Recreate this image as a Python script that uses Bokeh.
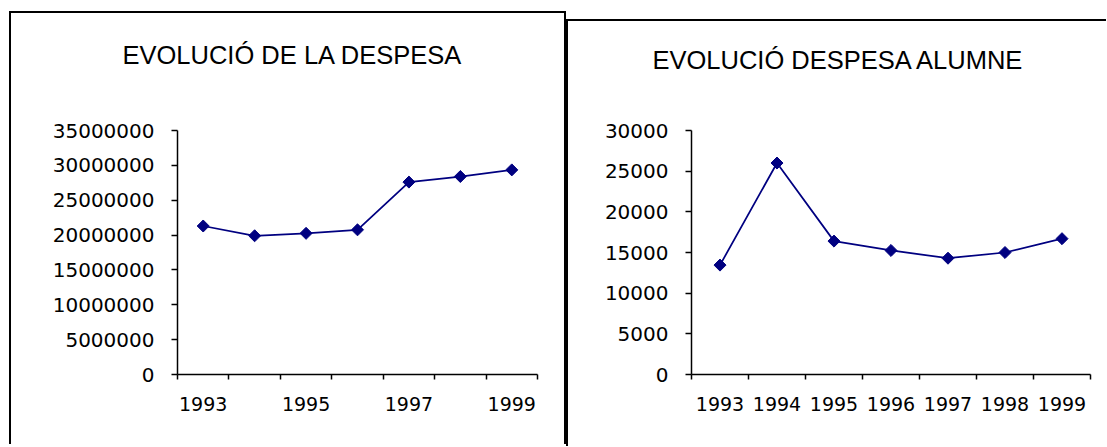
import math
from bokeh.plotting import figure
from bokeh.layouts import row
from bokeh.models import FixedTicker, BasicTickFormatter, Range1d
from bokeh.embed import file_html
from bokeh.resources import INLINE

# ---- data ----
years = [1993, 1994, 1995, 1996, 1997, 1998, 1999]
despesa_total = [21300000, 19900000, 20250000, 20750000, 27600000, 28400000, 29350000]
despesa_alumne = [13450, 26000, 16400, 15250, 14300, 15000, 16700]

left_label_years = [1993, 1995, 1997, 1999]
right_label_years = [1993, 1994, 1995, 1996, 1997, 1998, 1999]
left_y_ticks = [0, 5000000, 10000000, 15000000, 20000000, 25000000, 30000000, 35000000]
right_y_ticks = [0, 5000, 10000, 15000, 20000, 25000, 30000]

title_left = "EVOLUCIÓ DE LA DESPESA"
title_right = "EVOLUCIÓ DESPESA ALUMNE"

LINE_COLOR = "#000080"
TICK_FONT = "DejaVu Sans"
TITLE_FONT = "Liberation Sans"


def make_chart(values, label_years, y_ticks, title, width, height, mb_left, mb_right,
               mb_top, mb_bottom, title_offset, title_standoff, title_line_height,
               styles, margin, border_fill):
    boundaries = [y - 0.5 for y in years] + [years[-1] + 0.5]
    p = figure(width=width, height=height, output_backend="svg", toolbar_location=None,
               x_range=Range1d(boundaries[0], boundaries[-1]),
               y_range=Range1d(y_ticks[0], y_ticks[-1]),
               min_border_left=mb_left, min_border_right=mb_right,
               min_border_top=mb_top, min_border_bottom=mb_bottom,
               styles=styles, margin=margin)
    p.outline_line_color = None
    p.grid.visible = False
    p.background_fill_color = "white"
    p.border_fill_color = border_fill

    # trailing blank line lifts the title away from the plot area
    p.title.text = title + "\n"
    p.title.align = "left"
    p.title.offset = title_offset
    p.title.standoff = title_standoff
    p.title.text_line_height = title_line_height
    p.title.text_font = TITLE_FONT
    p.title.text_font_size = "25.5px"
    p.title.text_font_style = "normal"
    p.title.text_color = "black"

    xa = p.xaxis[0]
    xa.ticker = FixedTicker(ticks=label_years, minor_ticks=boundaries)
    xa.formatter = BasicTickFormatter(use_scientific=False)
    xa.major_tick_line_color = None
    xa.major_tick_out = 0
    xa.major_tick_in = 0
    xa.minor_tick_out = 5
    xa.minor_tick_in = 0
    xa.minor_tick_line_color = "black"
    xa.minor_tick_line_width = 1.5
    xa.axis_line_color = "black"
    xa.axis_line_width = 1.5
    xa.major_label_standoff = 17
    xa.major_label_text_font = TICK_FONT
    xa.major_label_text_font_size = "19px"
    xa.major_label_text_color = "black"

    ya = p.yaxis[0]
    ya.ticker = FixedTicker(ticks=y_ticks, minor_ticks=[])
    ya.formatter = BasicTickFormatter(use_scientific=False)
    ya.major_tick_out = 6
    ya.major_tick_in = 0
    ya.major_tick_line_color = "black"
    ya.major_tick_line_width = 1.5
    ya.minor_tick_line_color = None
    ya.axis_line_color = "black"
    ya.axis_line_width = 1.5
    ya.major_label_standoff = 17
    ya.major_label_text_font = TICK_FONT
    ya.major_label_text_font_size = "20px"
    ya.major_label_text_color = "black"

    p.line(years, values, line_color=LINE_COLOR, line_width=1.75)
    p.scatter(years, values, marker="square", size=8.5, angle=math.pi / 4,
              fill_color=LINE_COLOR, line_color=LINE_COLOR)
    return p


border = "2px solid #000"
left = make_chart(despesa_total, left_label_years, left_y_ticks, title_left,
                  width=557, height=433, mb_left=166, mb_right=31, mb_top=117, mb_bottom=72,
                  title_offset=-55, title_standoff=44, title_line_height=1.4,
                  styles={"border-top": border, "border-left": border, "border-right": border},
                  margin=(11, 0, 0, 9), border_fill="white")
right = make_chart(despesa_alumne, right_label_years, right_y_ticks, title_right,
                   width=540, height=433, mb_left=125, mb_right=16, mb_top=117, mb_bottom=72,
                   title_offset=-39, title_standoff=44, title_line_height=1.25,
                   styles={"background-image": "linear-gradient(#000, #000), linear-gradient(#000, #000)",
                           "background-size": "100% 2px, 2px 100%",
                           "background-position": "0px 6px, 0px 6px",
                           "background-repeat": "no-repeat"},
                   margin=(13, 0, 0, 0), border_fill=None)

layout = row(left, right)
open("out.html", "w").write(file_html(layout, INLINE))
